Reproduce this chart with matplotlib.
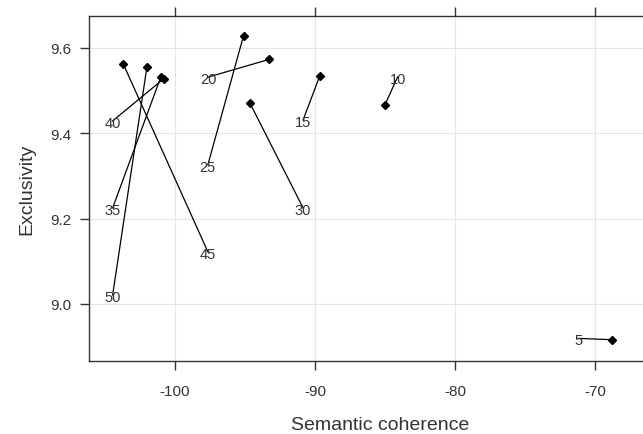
import numpy as np
import matplotlib
matplotlib.use("Agg")
import matplotlib.pyplot as plt

plt.rcParams["font.family"] = ["Liberation Sans", "DejaVu Sans"]

# topic counts (K) with semantic coherence / exclusivity of each model
k_values = [5, 10, 15, 20, 25, 30, 35, 40, 45, 50]
sem_coh = [-68.8, -85.0, -89.65, -93.3, -95.1, -94.65, -101.0, -100.8, -103.7, -102.0]
exclus = [8.916, 9.467, 9.535, 9.573, 9.629, 9.471, 9.533, 9.528, 9.563, 9.556]

# where each K label was placed
label_x = [-71.2, -84.1, -90.85, -97.6, -97.65, -90.85, -104.45, -104.45, -97.65, -104.45]
label_y = [8.915, 9.528, 9.427, 9.528, 9.322, 9.221, 9.221, 9.425, 9.118, 9.017]

xticks = [-100, -90, -80, -70]
yticks = [9.0, 9.2, 9.4, 9.6]

fig = plt.figure(figsize=(6.43, 4.35), dpi=100)
# plot region runs past the right edge of the picture, as in the reference
ax = fig.add_axes([89 / 643, 73 / 435, 583 / 643, 345 / 435])

ax.set_xlim(-106.14, -64.5)
ax.set_ylim(8.866, 9.675)

ax.set_xticks(xticks)
ax.set_yticks(yticks)
ax.set_xticklabels([f"{t:d}" for t in xticks])
ax.set_yticklabels([f"{t:.1f}" for t in yticks])
ax.grid(True, color="#e6e6e6", linewidth=0.8)
ax.set_axisbelow(True)

# leader lines from each label to its point
for lx, ly, sx, sy in zip(label_x, label_y, sem_coh, exclus):
    ax.plot([lx, sx], [ly + 0.004, sy], color="black", linewidth=0.9, zorder=2)

ax.plot(sem_coh, exclus, linestyle="none", marker="D", markersize=4.5,
        color="black", zorder=3)

for k, lx, ly in zip(k_values, label_x, label_y):
    ax.text(lx, ly, str(k), ha="center", va="center", fontsize=10.5,
            color="#333333", zorder=4)

for side in ["left", "bottom", "top", "right"]:
    ax.spines[side].set_color("#333333")
    ax.spines[side].set_linewidth(1.0)

ax.tick_params(axis="both", direction="out", length=6.5, width=1.0,
               color="#333333", labelsize=11, labelcolor="#333333")
ax.tick_params(axis="x", top=True, pad=10)
ax.tick_params(axis="y", pad=6)

ax.set_xlabel("Semantic coherence", fontsize=14, color="#333333", labelpad=13)
ax.set_ylabel("Exclusivity", fontsize=14, color="#333333", labelpad=11)

fig.savefig("out.png", dpi=100)
